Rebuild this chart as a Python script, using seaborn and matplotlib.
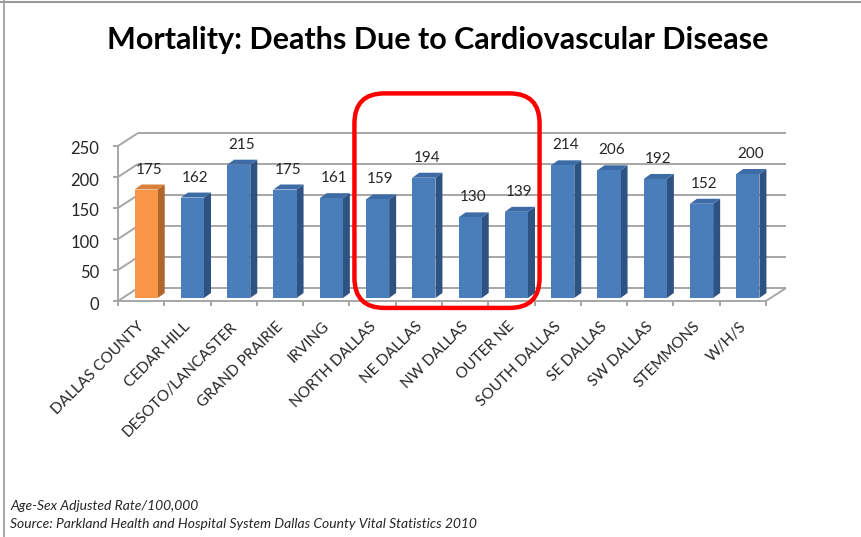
import matplotlib
matplotlib.use("Agg")
import matplotlib.pyplot as plt
from matplotlib.lines import Line2D
from matplotlib.patches import Polygon, FancyBboxPatch
from matplotlib.transforms import ScaledTranslation
import seaborn as sns
import pandas as pd

regions = ["DALLAS COUNTY", "CEDAR HILL", "DESOTO/LANCASTER", "GRAND PRAIRIE",
           "IRVING", "NORTH DALLAS", "NE DALLAS", "NW DALLAS", "OUTER NE",
           "SOUTH DALLAS", "SE DALLAS", "SW DALLAS", "STEMMONS", "W/H/S"]
rates = [175, 162, 215, 175, 161, 159, 194, 130, 139, 214, 206, 192, 152, 200]
y_ticks = [0, 50, 100, 150, 200, 250]
highlight = ["NORTH DALLAS", "NE DALLAS", "NW DALLAS", "OUTER NE"]

title = "Mortality: Deaths Due to Cardiovascular Disease"
note = "Age-Sex Adjusted Rate/100,000"
source = "Source: Parkland Health and Hospital System Dallas County Vital Statistics 2010"

FRONT = {"county": "#F79646", "area": "#4A7EBB"}
SIDE = {"county": "#B0652C", "area": "#2E5282"}
TOP = {"county": "#D9803A", "area": "#3D6BA6"}
GRID = "#A6A6A6"
TEXT = "#262626"

sns.set_theme(style="white")
plt.rcParams["font.family"] = ["Lato", "DejaVu Sans"]

W, H, DPI = 862, 537, 100
fig = plt.figure(figsize=(W / DPI, H / DPI), dpi=DPI)
fig.patch.set_facecolor("white")

# plot box in pixels: bar plane from x=123..771, y(0)=298, y(250)=143
ax = fig.add_axes([123 / W, 1 - 298 / H, 648 / W, 155 / H])
ax.set_facecolor("none")

kind = ["county" if i == 0 else "area" for i in range(len(regions))]
df = pd.DataFrame({"region": regions, "rate": rates, "kind": kind})
sns.barplot(data=df, x="region", y="rate", hue="kind", palette=FRONT,
            width=0.5, legend=False, ax=ax, saturation=1, dodge=False,
            linewidth=0)
ax.set_xlim(-0.5, len(regions) - 0.5)
ax.set_ylim(0, 250)
for s in ax.spines.values():
    s.set_visible(False)
ax.set_xlabel("")
ax.set_ylabel("")

# pixel -> data conversion for the pseudo-3D depth
px_x = 648 / len(regions)          # pixels per category
px_y = 155 / 250                   # pixels per unit of rate
def dx(p):
    return p / px_x
def dy(p):
    return p / px_y

# planes: back wall and front edge offsets relative to the bar plane
BACK = (dx(15), dy(10))
FRONT_OFF = (dx(-5), dy(-3))
x0, x1 = -0.5, len(regions) - 0.5

def line(xs, ys, **kw):
    ax.add_line(Line2D(xs, ys, color=GRID, lw=1.4, clip_on=False,
                       solid_capstyle="butt", zorder=0.5, **kw))

for v in y_ticks:
    # back wall grid line
    line([x0 + BACK[0], x1 + BACK[0]], [v + BACK[1], v + BACK[1]])
    # left wall diagonal
    line([x0 + FRONT_OFF[0], x0 + BACK[0]], [v + FRONT_OFF[1], v + BACK[1]])
    # y tick mark
    line([x0 + FRONT_OFF[0] - dx(5), x0 + FRONT_OFF[0]],
         [v + FRONT_OFF[1], v + FRONT_OFF[1]])

# front floor edge, right floor edge, vertical axis
line([x0 + FRONT_OFF[0], x1 + FRONT_OFF[0]], [FRONT_OFF[1]] * 2)
line([x1 + FRONT_OFF[0], x1 + BACK[0]], [FRONT_OFF[1], BACK[1]])
line([x0 + FRONT_OFF[0]] * 2, [FRONT_OFF[1], 250 + FRONT_OFF[1]])
for i in range(len(regions) + 1):
    xb = x0 + i + FRONT_OFF[0]
    line([xb, xb], [FRONT_OFF[1], FRONT_OFF[1] - dy(5)])

# depth faces of the bars
bdx, bdy = dx(7), dy(5)
for patch, k in zip(ax.patches, kind):
    bx, bw, bh = patch.get_x(), patch.get_width(), patch.get_height()
    patch.set_zorder(3)
    side = Polygon([(bx + bw, 0), (bx + bw + bdx, bdy), (bx + bw + bdx, bh + bdy),
                    (bx + bw, bh)], closed=True, fc=SIDE[k], ec="none", zorder=2)
    top = Polygon([(bx, bh), (bx + bdx, bh + bdy), (bx + bw + bdx, bh + bdy),
                   (bx + bw, bh)], closed=True, fc=TOP[k], ec="none", zorder=2)
    ax.add_patch(side)
    ax.add_patch(top)
    ax.annotate(f"{bh:.0f}", (bx + bw / 2, bh), xytext=(3, 13),
                textcoords="offset pixels", ha="center", va="bottom",
                fontsize=11, color=TEXT, zorder=4, annotation_clip=False)

# tick labels
ax.set_yticks(y_ticks)
ax.tick_params(axis="y", length=0, pad=17, labelsize=12, labelcolor=TEXT)
for lab in ax.get_yticklabels():
    lab.set_transform(lab.get_transform() +
                      ScaledTranslation(0, -5 / DPI, fig.dpi_scale_trans))
ax.set_xticks(range(len(regions)))
ax.set_xticklabels(regions, rotation=45, ha="right", va="center",
                   rotation_mode="anchor")
ax.tick_params(axis="x", length=0, pad=19, labelsize=11, labelcolor=TEXT)
for lab in ax.get_xticklabels():
    lab.set_transform(lab.get_transform() +
                      ScaledTranslation(-4 / DPI, 0, fig.dpi_scale_trans))

# red highlight frame around the four highlighted areas
idx = [regions.index(r) for r in highlight]
fig.canvas.draw()
to_in = fig.dpi_scale_trans.inverted()
(lx, by) = to_in.transform(ax.transData.transform((min(idx) - 0.5, -16)))
(rx, ty) = to_in.transform(ax.transData.transform((max(idx) + 0.5, 330)))
frame = FancyBboxPatch((lx, by), rx - lx, ty - by,
                       boxstyle="round,pad=0,rounding_size=0.3",
                       transform=fig.dpi_scale_trans, fc="none",
                       ec="#FF0000", lw=3.2, zorder=10, clip_on=False)
fig.add_artist(frame)

# titles and notes
fig.text(438 / W, 1 - 40 / H, title, ha="center", va="center",
         fontsize=22, fontweight="bold", color="black")
fig.text(10 / W, 1 - 506 / H, note, ha="left", va="center",
         fontsize=10, style="italic", color=TEXT)
fig.text(10 / W, 1 - 524 / H, source, ha="left", va="center",
         fontsize=10, style="italic", color=TEXT)

# slide border
fig.add_artist(Line2D([0, 1], [1 - 1.5 / H] * 2, color="#9A9A9A", lw=1.5,
                      transform=fig.transFigure))
fig.add_artist(Line2D([4 / W] * 2, [0, 1], color="#9A9A9A", lw=1.2,
                      transform=fig.transFigure))

fig.savefig("out.png", dpi=DPI)
